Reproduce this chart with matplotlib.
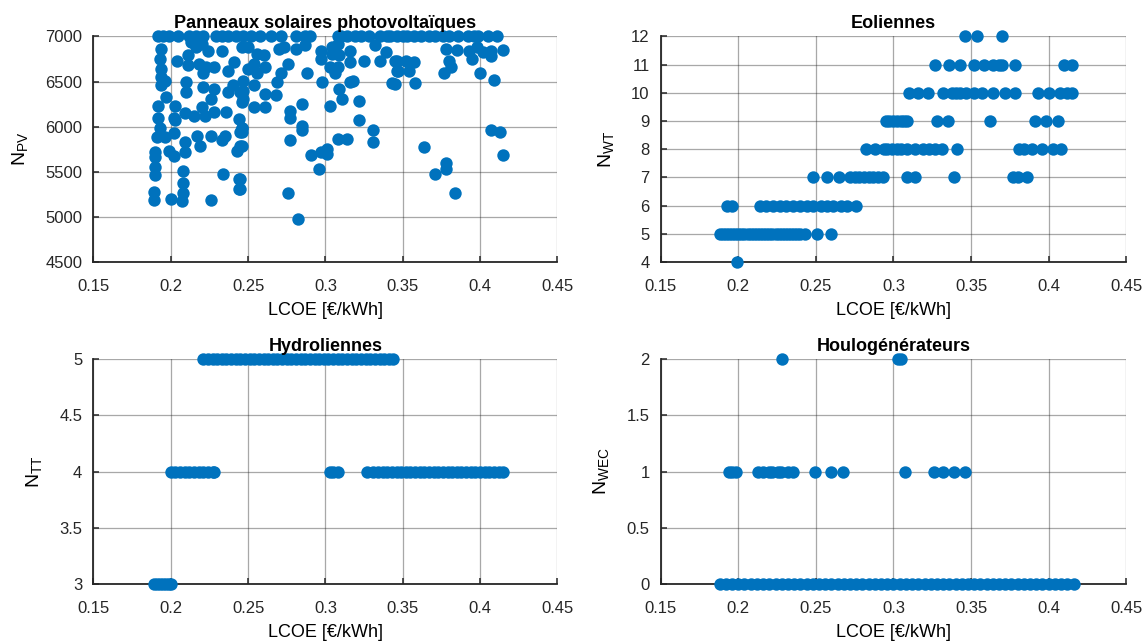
import matplotlib
matplotlib.use("Agg")
import matplotlib.pyplot as plt

plt.rcParams['font.family'] = ['Liberation Sans', 'DejaVu Sans']
plt.rcParams['mathtext.fontset'] = 'custom'
plt.rcParams['mathtext.rm'] = 'Liberation Sans'
plt.rcParams['mathtext.it'] = 'Liberation Sans'

blue = '#0072BD'

# ---- PV panels: points sitting on the 7000 cap
pv_top_lcoe = [0.192, 0.195, 0.199, 0.205, 0.212, 0.216, 0.221, 0.229, 0.233, 0.237,
               0.242, 0.247, 0.252, 0.258, 0.265, 0.271, 0.281, 0.287, 0.290, 0.308,
               0.310, 0.314, 0.319, 0.323, 0.328, 0.335, 0.340, 0.342, 0.346, 0.350,
               0.353, 0.357, 0.362, 0.367, 0.371, 0.376, 0.380, 0.386, 0.392, 0.396,
               0.399, 0.405, 0.411]

# ---- PV panels: the other solutions
pv_lcoe = [0.194, 0.193, 0.194, 0.194, 0.196, 0.194, 0.197, 0.192, 0.203, 0.192,
           0.202, 0.193, 0.203, 0.191, 0.196, 0.202, 0.190, 0.190, 0.199, 0.202,
           0.209, 0.209, 0.190, 0.190, 0.208, 0.208, 0.189, 0.189, 0.200, 0.208,
           0.207, 0.226, 0.234, 0.244, 0.244, 0.204, 0.211, 0.211, 0.210, 0.210,
           0.209, 0.215, 0.220, 0.222, 0.228, 0.236, 0.217, 0.219, 0.226, 0.233,
           0.235, 0.243, 0.245, 0.244, 0.246, 0.245, 0.246, 0.247, 0.237, 0.240,
           0.228, 0.226, 0.221, 0.223, 0.228, 0.237, 0.241, 0.233, 0.220, 0.224,
           0.216, 0.246, 0.218, 0.221, 0.213,
           0.250, 0.256, 0.260, 0.270, 0.273, 0.281, 0.287, 0.297, 0.304, 0.308,
           0.297, 0.304, 0.309, 0.316, 0.316, 0.332, 0.339, 0.335, 0.346, 0.325,
           0.276, 0.254, 0.261, 0.250, 0.256, 0.303, 0.308, 0.306, 0.346, 0.271,
           0.269, 0.288, 0.254, 0.247, 0.245, 0.261, 0.268, 0.298, 0.316, 0.318,
           0.309, 0.311, 0.343, 0.322, 0.303, 0.285, 0.254, 0.261, 0.277, 0.277,
           0.247, 0.322, 0.331, 0.331, 0.308, 0.314, 0.285, 0.285, 0.277, 0.246,
           0.246, 0.246, 0.291, 0.297, 0.301, 0.301, 0.296, 0.245, 0.245, 0.276,
           0.282,
           0.378, 0.385, 0.393, 0.398, 0.402, 0.407, 0.415, 0.380, 0.381, 0.395,
           0.407, 0.345, 0.352, 0.357, 0.347, 0.354, 0.377, 0.400, 0.409, 0.345,
           0.358, 0.407, 0.413, 0.415, 0.364, 0.378, 0.378, 0.371, 0.384]
pv_n = [6860, 6750, 6640, 6550, 6510, 6460, 6330, 6230, 6230, 6100,
        6100, 5990, 6070, 5880, 5880, 5930, 5720, 5660, 5730, 5680,
        5830, 5720, 5550, 5460, 5510, 5380, 5280, 5190, 5200, 5270,
        5180, 5190, 5480, 5420, 5310, 6730, 6790, 6680, 6490, 6380,
        6150, 6120, 6220, 6120, 6160, 6160, 5900, 5790, 5900, 5850,
        5900, 5730, 5790, 6090, 5990, 5940, 6270, 6400, 6380, 6460,
        6420, 6310, 6440, 6660, 6660, 6620, 6720, 6840, 6920, 6840,
        6880, 6880, 6700, 6590, 6940,
        6880, 6810, 6790, 6860, 6880, 6860, 6900, 6840, 6880, 6920,
        6750, 6810, 6790, 6840, 6720, 6900, 6830, 6730, 6730, 6730,
        6700, 6700, 6660, 6640, 6590, 6660, 6660, 6590, 6620, 6590,
        6490, 6590, 6460, 6510, 6380, 6360, 6350, 6490, 6490, 6510,
        6420, 6310, 6480, 6290, 6230, 6250, 6220, 6220, 6170, 6100,
        6310, 6070, 5960, 5830, 5860, 5860, 6010, 5960, 5850, 5990,
        5940, 5790, 5690, 5720, 5750, 5700, 5530, 5420, 5310, 5270,
        4980,
        6860, 6850, 6840, 6880, 6830, 6840, 6850, 6730, 6660, 6750,
        6780, 6730, 6730, 6720, 6620, 6620, 6590, 6590, 6520, 6470,
        6480, 5960, 5940, 5690, 5780, 5600, 5530, 5480, 5270]

# ---- wind turbines, LCOE for each turbine count
wt_lcoe = {
    4: [0.199],
    5: [0.188, 0.190, 0.192, 0.194, 0.196, 0.198, 0.200, 0.202, 0.204, 0.206,
        0.208, 0.210, 0.212, 0.214, 0.216, 0.218, 0.220, 0.222, 0.224, 0.226,
        0.228, 0.230, 0.232, 0.234, 0.236, 0.238, 0.240, 0.243, 0.251, 0.260],
    6: [0.193, 0.196, 0.214, 0.218, 0.2225, 0.227, 0.231, 0.235, 0.240, 0.244,
        0.248, 0.253, 0.257, 0.261, 0.266, 0.270, 0.276],
    7: [0.248, 0.257, 0.265, 0.272, 0.275, 0.278, 0.281, 0.284, 0.287, 0.290,
        0.293, 0.309, 0.314, 0.339, 0.377, 0.380, 0.386],
    8: [0.282, 0.288, 0.294, 0.296, 0.299, 0.302, 0.305, 0.309, 0.314, 0.319,
        0.323, 0.327, 0.331, 0.341, 0.381, 0.384, 0.389, 0.396, 0.403, 0.408],
    9: [0.295, 0.297, 0.300, 0.302, 0.305, 0.307, 0.309, 0.328, 0.335, 0.362,
        0.391, 0.398, 0.406],
    10: [0.310, 0.316, 0.322, 0.332, 0.338, 0.340, 0.343, 0.347, 0.352, 0.357,
         0.364, 0.372, 0.378, 0.393, 0.400, 0.407, 0.412, 0.415],
    11: [0.327, 0.336, 0.343, 0.352, 0.358, 0.364, 0.368, 0.370, 0.378, 0.410, 0.415],
    12: [0.346, 0.354, 0.370],
}

# ---- tidal turbines
tt_lcoe = {
    3: [0.189, 0.191, 0.193, 0.195, 0.197, 0.199, 0.200],
    4: [0.200, 0.203, 0.206, 0.209, 0.212, 0.215, 0.218, 0.221, 0.224, 0.227,
        0.228, 0.303, 0.305, 0.308, 0.327, 0.331, 0.334, 0.337, 0.340, 0.343,
        0.346, 0.349, 0.352, 0.355, 0.358, 0.361, 0.364, 0.367, 0.370, 0.373,
        0.376, 0.379, 0.382, 0.385, 0.388, 0.391, 0.394, 0.397, 0.400, 0.403,
        0.406, 0.409, 0.412, 0.415],
    5: [0.221, 0.224, 0.227, 0.230, 0.233, 0.236, 0.239, 0.242, 0.245, 0.248,
        0.251, 0.254, 0.257, 0.260, 0.263, 0.266, 0.269, 0.272, 0.275, 0.278,
        0.281, 0.284, 0.287, 0.290, 0.293, 0.296, 0.299, 0.302, 0.305, 0.308,
        0.311, 0.314, 0.317, 0.320, 0.323, 0.326, 0.329, 0.332, 0.335, 0.338,
        0.341, 0.344],
}

# ---- wave energy converters
wec_lcoe = {
    0: [0.188, 0.192, 0.196, 0.200, 0.204, 0.208, 0.212, 0.216, 0.220, 0.224,
        0.228, 0.232, 0.236, 0.240, 0.244, 0.248, 0.252, 0.256, 0.260, 0.264,
        0.268, 0.272, 0.276, 0.280, 0.284, 0.288, 0.292, 0.296, 0.300, 0.304,
        0.308, 0.312, 0.316, 0.320, 0.324, 0.328, 0.332, 0.336, 0.340, 0.344,
        0.348, 0.352, 0.356, 0.360, 0.364, 0.368, 0.372, 0.376, 0.380, 0.384,
        0.388, 0.392, 0.396, 0.400, 0.404, 0.408, 0.412, 0.416],
    1: [0.194, 0.196, 0.1985, 0.2125, 0.2157, 0.220, 0.222, 0.2254, 0.2275, 0.2318,
        0.235, 0.2495, 0.2598, 0.2673, 0.3075, 0.3264, 0.3318, 0.3389, 0.3462],
    2: [0.228, 0.303, 0.305],
}

x_ticks = [0.15, 0.2, 0.25, 0.3, 0.35, 0.4, 0.45]
x_ticklabels = ['0.15', '0.2', '0.25', '0.3', '0.35', '0.4', '0.45']


def flatten(rows):
    xs, ys = [], []
    for level, vals in rows.items():
        xs += vals
        ys += [level] * len(vals)
    return xs, ys


fig = plt.figure(figsize=(11.48, 6.41), dpi=100)
ax1 = fig.add_axes([0.0814, 0.5913, 0.4041, 0.3518])
ax2 = fig.add_axes([0.5755, 0.5913, 0.4056, 0.3518])
ax3 = fig.add_axes([0.0814, 0.0889, 0.4041, 0.3510])
ax4 = fig.add_axes([0.5755, 0.0889, 0.4056, 0.3510])


def style(ax, title, ylab, yticks, yticklabels):
    ax.set_xlim(0.15, 0.45)
    ax.set_ylim(yticks[0], yticks[-1])
    ax.set_xticks(x_ticks)
    ax.set_xticklabels(x_ticklabels)
    ax.set_yticks(yticks)
    ax.set_yticklabels(yticklabels)
    ax.grid(True, color='#262626', alpha=0.4, linewidth=0.9)
    ax.set_axisbelow(True)
    for s in ['top', 'right']:
        ax.spines[s].set_visible(False)
    for s in ['left', 'bottom']:
        ax.spines[s].set_color('#262626')
        ax.spines[s].set_linewidth(1.3)
    ax.tick_params(direction='in', length=4, width=1.1, labelsize=12,
                   colors='#262626')
    ax.tick_params(axis='x', pad=12)
    ax.tick_params(axis='y', pad=8)
    ax.set_title(title, fontsize=13, fontweight='bold', pad=6)
    ax.set_xlabel('LCOE [€/kWh]', fontsize=13, labelpad=6)
    ax.set_ylabel(ylab, fontsize=14, labelpad=11)


ms = 80
ax1.scatter(pv_top_lcoe, [7000] * len(pv_top_lcoe), s=ms, color=blue,
            clip_on=False, zorder=3, linewidths=0)
ax1.scatter(pv_lcoe, pv_n, s=ms, color=blue, clip_on=False, zorder=3, linewidths=0)
style(ax1, 'Panneaux solaires photovoltaïques', r'N$_{\rm PV}$',
      [4500, 5000, 5500, 6000, 6500, 7000],
      ['4500', '5000', '5500', '6000', '6500', '7000'])

x, y = flatten(wt_lcoe)
ax2.scatter(x, y, s=ms, color=blue, clip_on=False, zorder=3, linewidths=0)
style(ax2, 'Eoliennes', r'N$_{\rm WT}$', list(range(4, 13)),
      [str(v) for v in range(4, 13)])

x, y = flatten(tt_lcoe)
ax3.scatter(x, y, s=ms, color=blue, clip_on=False, zorder=3, linewidths=0)
style(ax3, 'Hydroliennes', r'N$_{\rm TT}$', [3, 3.5, 4, 4.5, 5],
      ['3', '3.5', '4', '4.5', '5'])

x, y = flatten(wec_lcoe)
ax4.scatter(x, y, s=ms, color=blue, clip_on=False, zorder=3, linewidths=0)
style(ax4, 'Houlogénérateurs', r'N$_{\rm WEC}$', [0, 0.5, 1, 1.5, 2],
      ['0', '0.5', '1', '1.5', '2'])

fig.savefig('out.png', dpi=100)
